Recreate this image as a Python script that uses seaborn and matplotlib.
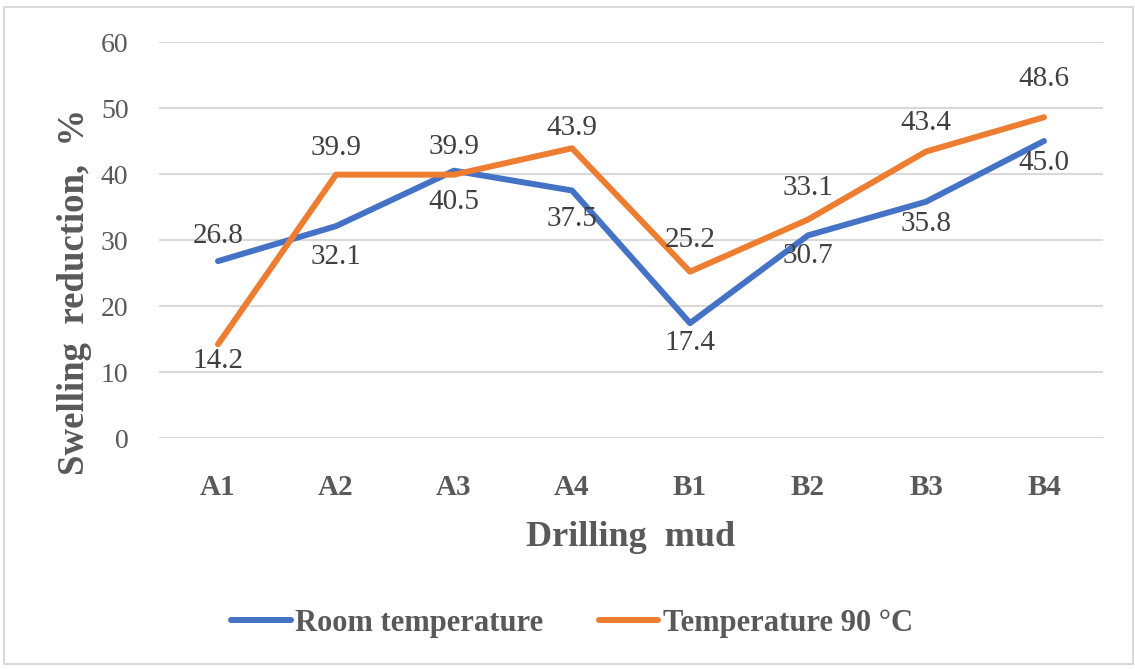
import pandas as pd
import matplotlib.pyplot as plt
import seaborn as sns
from matplotlib.patches import Rectangle

# Chart data
muds = ['A1', 'A2', 'A3', 'A4', 'B1', 'B2', 'B3', 'B4']
room_temp = [26.8, 32.1, 40.5, 37.5, 17.4, 30.7, 35.8, 45.0]
temp_90 = [14.2, 39.9, 39.9, 43.9, 25.2, 33.1, 43.4, 48.6]
series_names = ['Room temperature', 'Temperature 90 °C']
y_ticks = [0, 10, 20, 30, 40, 50, 60]

# Label offsets in pixels (+ above the point, - below), as placed in the original
room_offset = [25, -31, -31, -28, -20, -21, -22, -22]
temp_offset = [-17, 27, 28, 20, 32, 32, 29, 38]

sns.set_theme(style='white')
plt.rcParams['font.family'] = ['Liberation Serif', 'DejaVu Serif']
grey = '#595959'
colors = ['#4472C4', '#ED7D31']

# Long-form table for seaborn
df = pd.DataFrame({
    'Drilling mud': muds * 2,
    'value': room_temp + temp_90,
    'series': [series_names[0]] * len(muds) + [series_names[1]] * len(muds),
})
df['x'] = df['Drilling mud'].map({m: i for i, m in enumerate(muds)})

fig = plt.figure(figsize=(11.35, 6.69), dpi=100)
ax = fig.add_axes([159 / 1135, 1 - 438 / 669, (1103 - 159) / 1135, (438 - 42) / 669])

sns.lineplot(data=df, x='x', y='value', hue='series', palette=colors,
             linewidth=4.3, ax=ax, legend=True)
for line in ax.get_lines():
    line.set_solid_capstyle('round')
    line.set_solid_joinstyle('round')

# Data labels
for vals, offs in [(room_temp, room_offset), (temp_90, temp_offset)]:
    for i, (v, o) in enumerate(zip(vals, offs)):
        ax.annotate(f'{v:.1f}', (i, v), xytext=(0, o), textcoords='offset pixels',
                    ha='center', va='center', fontsize=21, color='#404040')

ax.set_xlim(-0.5, len(muds) - 0.5)
ax.set_ylim(0, 60)
ax.set_xticks(range(len(muds)))
ax.set_xticklabels(muds, fontsize=21, fontweight='bold', color=grey)
ax.set_yticks(y_ticks)
ax.set_yticklabels([str(t) for t in y_ticks], fontsize=20, color=grey)
ax.tick_params(axis='y', length=0, pad=22)
ax.tick_params(axis='x', length=0, pad=26)
ax.grid(axis='y', color='#d9d9d9', linewidth=1.5)
ax.set_axisbelow(True)
for sp in ax.spines.values():
    sp.set_visible(False)

ax.set_xlabel('Drilling  mud', fontsize=26, fontweight='bold', color=grey, labelpad=14)
ax.set_ylabel('Swelling  reduction,  %', fontsize=26.5, fontweight='bold', color=grey)
ax.yaxis.set_label_coords((92 - 159) / 944, (438 - 292) / 396)

handles, labels = ax.get_legend_handles_labels()
leg = ax.legend(handles, labels, loc='center', bbox_to_anchor=(572 / 1135, 1 - 623 / 669),
                bbox_transform=fig.transFigure, ncol=2, frameon=False,
                prop={'size': 22, 'weight': 'bold'}, handlelength=1.95,
                handletextpad=0.16, columnspacing=1.8)
for t in leg.get_texts():
    t.set_color(grey)
for h in leg.get_lines():
    h.set_linewidth(4.3)

# Light frame around the whole chart
fig.patches.append(Rectangle((4 / 1135, 5 / 669), 1129 / 1135, 657 / 669,
                             transform=fig.transFigure, fill=False,
                             edgecolor='#d9d9d9', linewidth=1.5))

fig.savefig('out.png', dpi=100)
